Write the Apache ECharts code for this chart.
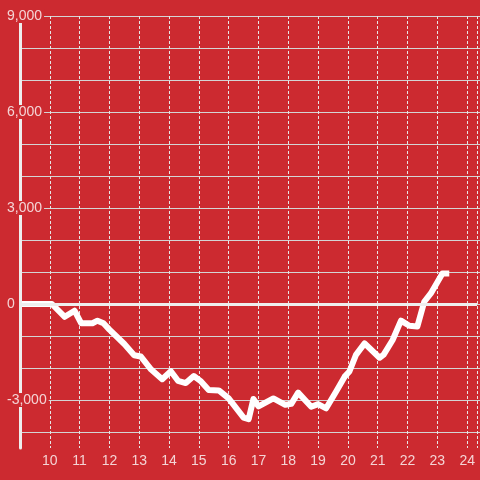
<!DOCTYPE html>
<html>
<head>
<meta charset="utf-8">
<script src="https://cdn.jsdelivr.net/npm/echarts@6/dist/echarts.min.js"></script>
<style>
html,body{margin:0;padding:0;background:#cc2a30;}
#c{width:480px;height:480px;}
</style>
</head>
<body>
<div id="c"></div>
<script>
// hours of day
const hours = [9.0, 10.07, 10.5, 10.83, 11.05, 11.43, 11.6, 11.8, 12.0, 12.5, 12.83, 13.05, 13.4, 13.77, 14.06, 14.3, 14.56, 14.83, 15.05, 15.33, 15.67, 16.0, 16.5, 16.67, 16.83, 17.0, 17.5, 17.9, 18.1, 18.33, 18.77, 19.0, 19.27, 19.6, 19.89, 20.05, 20.27, 20.56, 21.06, 21.2, 21.5, 21.78, 22.06, 22.33, 22.56, 22.78, 23.17, 23.4];
const values = [0, 0, -400, -210, -600, -600, -520, -600, -800, -1250, -1600, -1640, -2050, -2350, -2100, -2400, -2470, -2250, -2400, -2690, -2700, -2950, -3550, -3600, -2970, -3200, -2950, -3150, -3120, -2770, -3210, -3130, -3260, -2740, -2270, -2110, -1590, -1230, -1680, -1580, -1125, -520, -680, -700, 70, 330, 950, 950];
const xTicks = [10, 11, 12, 13, 14, 15, 16, 17, 18, 19, 20, 21, 22, 23, 24];
const yLabelTicks = [-3000, 0, 3000, 6000, 9000];
const yGridTicks = [-4000, -3000, -2000, -1000, 0, 1000, 2000, 3000, 4000, 5000, 6000, 7000, 8000, 9000];

const BG = '#cc2a30';
const TXT = '#f4d4d5';
const FONT = 'Liberation Sans';

const chart = echarts.init(document.getElementById('c'), null, {renderer: 'canvas'});
chart.setOption({
  backgroundColor: BG,
  animation: false,
  grid: [
    {left: 20, right: 0, top: 16, bottom: 32},
    {left: 20, right: 0, top: 16, bottom: 48}
  ],
  xAxis: [
    {
      gridIndex: 0, type: 'value', min: 9, max: 24.33, interval: 1,
      axisLine: {show: false}, axisTick: {show: false},
      axisLabel: {
        color: TXT, fontFamily: FONT, fontSize: 14, margin: 6,
        formatter: v => xTicks.indexOf(v) >= 0 ? String(v) : ''
      },
      splitLine: {show: true, lineStyle: {color: '#e6e6e6', width: 1, type: [3, 2]}}
    },
    {
      gridIndex: 1, type: 'value', min: 9, max: 24.33, show: false
    }
  ],
  yAxis: [
    {
      gridIndex: 0, type: 'value', min: -4500, max: 9000, interval: 1500, z: 5,
      axisLine: {show: true, lineStyle: {color: '#eeeeee', width: 3}},
      axisTick: {show: false},
      splitLine: {show: false},
      axisLabel: {
        color: TXT, fontFamily: FONT, fontSize: 14, margin: 14, align: 'left',
        backgroundColor: BG, padding: [0, 2, 0, 1],
        formatter: v => yLabelTicks.indexOf(v) >= 0 ? v.toLocaleString('en-US') : ''
      }
    },
    {
      gridIndex: 1, type: 'value', min: yGridTicks[0], max: yGridTicks[yGridTicks.length - 1], interval: 1000, z: 0,
      axisLine: {show: false}, axisTick: {show: false}, axisLabel: {show: false},
      splitLine: {show: true, lineStyle: {color: '#d4d4d4', width: 1}}
    }
  ],
  series: [
    {
      type: 'line', xAxisIndex: 0, yAxisIndex: 0, z: 4,
      data: hours.map((h, i) => [h, values[i]]),
      showSymbol: false, symbol: 'none',
      lineStyle: {color: '#ffffff', width: 6, join: 'round'},
      markLine: {
        silent: true, symbol: 'none', label: {show: false},
        lineStyle: {color: '#eeeeee', width: 3, type: 'solid'},
        data: [{yAxis: 0}]
      }
    },
    {type: 'line', xAxisIndex: 1, yAxisIndex: 1, data: []}
  ]
});
</script>
</body>
</html>
